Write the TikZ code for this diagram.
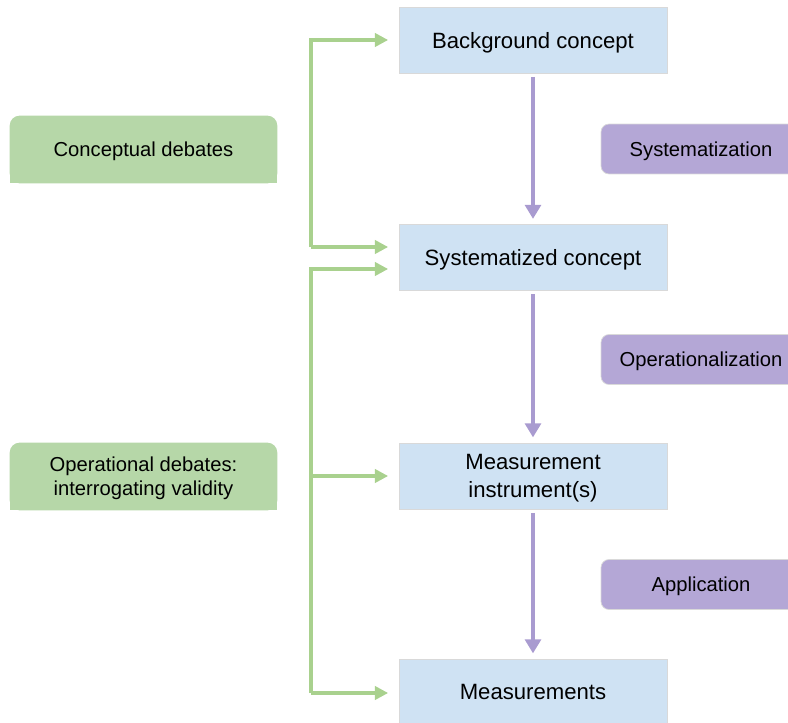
\documentclass[tikz,border=0pt]{standalone}
\usepackage{fontspec}
\setmainfont{Liberation Sans}
\usetikzlibrary{arrows.meta,backgrounds}

\definecolor{conceptblue}{HTML}{CFE2F3}
\definecolor{debategreen}{HTML}{B6D7A8}
\definecolor{steppurple}{HTML}{B4A7D6}
\definecolor{linkgreen}{HTML}{A9D18E}
\definecolor{flowpurple}{HTML}{A99BD0}

\tikzset{
	concept/.style={fill=conceptblue, draw=black!15, line width=0.4pt, minimum width=5.36cm, minimum height=1.32cm, inner sep=0pt, text depth=0pt, align=center, font=\fontsize{12.6}{16}\selectfont},
	debate/.style={minimum width=5.34cm, minimum height=1.34cm, inner sep=0pt, text depth=0pt, align=center, font=\fontsize{11.5}{13.7}\selectfont},
	process/.style={fill=steppurple, draw=black!15, line width=0.4pt, rounded corners=0.16cm, minimum width=4cm, minimum height=1cm, inner sep=0pt, text depth=0pt, font=\fontsize{11.5}{13.7}\selectfont},
	flow/.style={color=flowpurple, line width=2pt, -{Triangle[length=8pt,width=9pt]}, shorten <=2pt, shorten >=3pt},
	link/.style={color=linkgreen, line width=1.8pt, -{Triangle[length=7.5pt,width=7.5pt]}, shorten >=6pt},
}

\begin{document}
\begin{tikzpicture}[x=0.02cm, y=-0.02cm]
	\useasboundingbox (0,0) rectangle (788,723);

	\node[concept] (bg) at (533,40) {Background concept};
	\node[concept] (sys) at (533,257.5) {Systematized concept};
	\node[concept] (inst) at (533,476) {Measurement\\instrument(s)};
	\node[concept] (meas) at (533,692) {Measurements};

	\node[debate] (cdeb) at (143.5,149.5) {Conceptual debates};
	\node[debate] (odeb) at (143.5,476.5) {Operational debates:\\interrogating validity};

	\node[process] (syst) at (701,149) {Systematization};
	\node[process] (oper) at (701,359.5) {Operationalization};
	\node[process] (appl) at (701,584.5) {Application};

	% green boxes: round top corners only
	\begin{scope}[on background layer]
		\foreach \n in {cdeb,odeb} {
			\fill[debategreen, rounded corners=0.2cm] (\n.south west) rectangle (\n.north east);
			\fill[debategreen] (\n.south west) rectangle (\n.east);
		}
	\end{scope}

	\draw[flow] (bg) -- (sys);
	\draw[flow] (sys) -- (inst);
	\draw[flow] (inst) -- (meas);

	\coordinate (j1) at (311,247);
	\coordinate (j2) at (311,693);
	\coordinate (j3) at (311,269);

	\draw[link] (j1) |- (bg.west);
	\draw[link] (j1) -- (j1 -| sys.west);
	\draw[link] (j2) -- (j3) -- (j3 -| sys.west);
	\draw[link] (j2 |- inst.west) -- (inst.west);
	\draw[link] (j2) -- (j2 -| meas.west);
\end{tikzpicture}
\end{document}
